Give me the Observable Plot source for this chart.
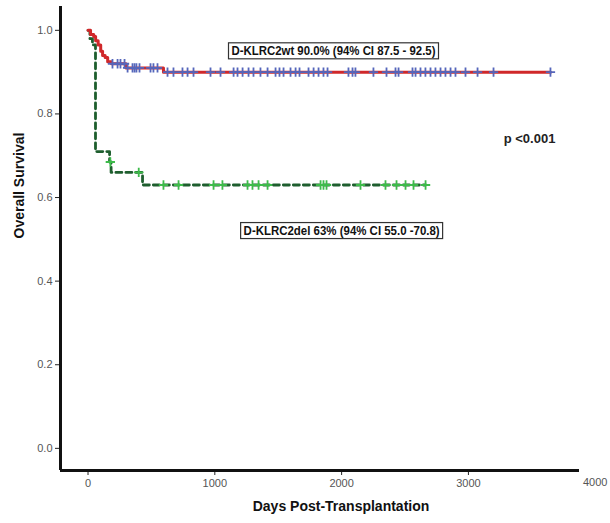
<!DOCTYPE html>
<html><head><meta charset="utf-8">
<script src="https://cdn.jsdelivr.net/npm/d3@7"></script>
<script src="https://cdn.jsdelivr.net/npm/@observablehq/plot@0.6"></script>
<style>body{margin:0;background:#fff} svg{display:block}</style>
</head><body><div id="chart"></div>
<script>
// Kaplan–Meier step data (days, survival)
const wtDays = [0, 20, 45, 60, 80, 100, 115, 135, 155, 185, 300, 595, 3647];
const wtSurv = [1.0, 0.99, 0.985, 0.975, 0.965, 0.95, 0.94, 0.935, 0.925, 0.92, 0.91, 0.90, 0.90];
const delDays = [0, 15, 35, 59, 170, 182, 430, 2662];
const delSurv = [1.0, 0.98, 0.965, 0.71, 0.685, 0.66, 0.63, 0.63];
// censoring marks (days)
const wtCensorDays = [193, 233, 256, 288, 312, 351, 367, 382, 406, 493, 516, 548,
  627, 674, 745, 785, 832, 966, 1045, 1148, 1179, 1219, 1266, 1305, 1360, 1416, 1479, 1510,
  1542, 1597, 1637, 1668, 1739, 1779, 1818, 1857, 1889, 2054, 2086, 2109, 2251, 2354, 2425,
  2449, 2559, 2583, 2622, 2661, 2701, 2740, 2780, 2819, 2859, 2898, 2977, 3072, 3198, 3647];
const delCensorDays = [176, 400, 595, 714, 990, 1060, 1258, 1297, 1345, 1416, 1834, 1857, 1881,
  2149, 2346, 2433, 2504, 2567, 2662];
const yTicks = [0, 0.2, 0.4, 0.6, 0.8, 1.0];
const xTicks = [0, 1000, 2000, 3000];
const xExtraTick = [4000];
const labelTexts = ["D-KLRC2wt 90.0% (94% CI 87.5 - 92.5)", "D-KLRC2del 63% (94% CI 55.0 -70.8)"];
const labelDays = [1936, 2000];
const labelSurv = [0.951, 0.521];
const pText = "p <0.001";
const pDay = 3482, pSurv = 0.741;

const xDomain = [-217, 3876];
const yDomain = [-0.053, 1.057];

const wt = wtDays.map((d, i) => ({day: d, s: wtSurv[i]}));
const del = delDays.map((d, i) => ({day: d, s: delSurv[i]}));
function survAt(days, surv, d) {
  let v = surv[0];
  for (let i = 0; i < days.length; i++) if (days[i] <= d) v = surv[i];
  return v;
}
const wtCens = wtCensorDays.map(d => ({day: d, s: survAt(wtDays, wtSurv, d)}));
const delCens = delCensorDays.map(d => ({day: d, s: survAt(delDays, delSurv, d)}));
const labels = labelTexts.map((t, i) => ({t, day: labelDays[i], s: labelSurv[i]}));

const chart = Plot.plot({
  width: 610, height: 523,
  marginLeft: 60, marginRight: 31, marginTop: 6, marginBottom: 53,
  x: {domain: xDomain},
  y: {domain: yDomain},
  style: {fontFamily: "Liberation Sans, Arial, sans-serif", background: "#fff"},
  marks: [
    Plot.axisY({ticks: yTicks, tickFormat: d3.format(".1f"), tickSize: 5, tickPadding: 3,
      fontSize: 11, fill: "#555", stroke: "#222", label: null}),
    Plot.axisX({ticks: xTicks, tickFormat: d => String(d), tickSize: 5, tickPadding: 4,
      fontSize: 11, fill: "#555", stroke: "#222", label: null}),
    Plot.text(xExtraTick, {x: d => d, frameAnchor: "bottom", dy: 15, text: d => String(d),
      fontSize: 11, fill: "#555"}),
    Plot.ruleX([xDomain[0]], {stroke: "#111", strokeWidth: 3}),
    Plot.ruleY([yDomain[0]], {stroke: "#111", strokeWidth: 3}),
    Plot.line(del, {x: "day", y: "s", curve: "step-after", stroke: "#1e5e2e", strokeWidth: 2.8,
      strokeDasharray: "6,4"}),
    Plot.dot(delCens, {x: "day", y: "s", symbol: "plus", r: 3.1, stroke: "#3dbb4a", strokeWidth: 1.8}),
    Plot.line(wt, {x: "day", y: "s", curve: "step-after", stroke: "#d0282a", strokeWidth: 3}),
    Plot.dot(wtCens, {x: "day", y: "s", symbol: "plus", r: 3.1, stroke: "#5566bb", strokeWidth: 1.8}),
    Plot.text(labels, {x: "day", y: "s", text: "t", fontSize: 12.5, fontWeight: "bold", fill: "#111",
      fontFamily: "Liberation Sans Narrow, Liberation Sans, Arial, sans-serif"}),
    Plot.text([pText], {x: pDay, y: pSurv, text: d => d, fontSize: 13, fontWeight: "bold", fill: "#222"}),
    Plot.text(["Overall Survival"], {frameAnchor: "left", dx: -41, rotate: -90, text: d => d,
      fontSize: 14, fontWeight: "bold", fill: "#111"}),
    Plot.text(["Days Post-Transplantation"], {frameAnchor: "bottom", dx: 21, dy: 40, text: d => d,
      fontSize: 14, fontWeight: "bold", fill: "#111"})
  ]
});
document.getElementById("chart").appendChild(chart);

// boxes around the group labels
const widths = {"D-KLRC2wt": 204, "D-KLRC2del": 196};
chart.querySelectorAll("text").forEach(el => {
  const s = el.textContent;
  if (s.startsWith("D-KLRC2")) {
    const key = s.split(" ")[0];
    el.setAttribute("textLength", widths[key]);
    el.setAttribute("lengthAdjust", "spacingAndGlyphs");
    const b = el.getBBox();
    const r = document.createElementNS("http://www.w3.org/2000/svg", "rect");
    r.setAttribute("x", b.x - 3); r.setAttribute("y", b.y - 1);
    r.setAttribute("width", b.width + 6); r.setAttribute("height", b.height + 2);
    r.setAttribute("fill", "#fff"); r.setAttribute("stroke", "#333"); r.setAttribute("stroke-width", 1.2);
    const tr = el.getAttribute("transform");
    if (tr) r.setAttribute("transform", tr);
    el.parentNode.insertBefore(r, el);
  }
});
</script>
</body></html>
